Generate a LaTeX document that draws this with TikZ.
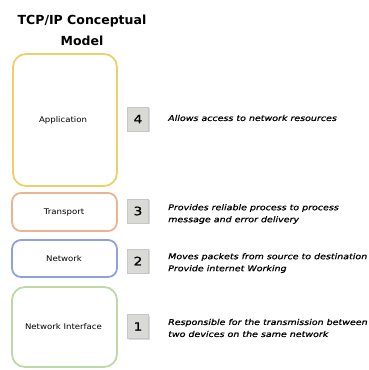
\documentclass[tikz,border=0pt]{standalone}
\usepackage{fontspec}
\setmainfont{DejaVu Sans}
\newfontfamily\descfont[FakeStretch=1.2, FakeBold=1]{DejaVu Sans}
\newfontfamily\labelfont[FakeStretch=1.1]{DejaVu Sans}
\usetikzlibrary{shadows}
\definecolor{appc}{HTML}{F0CF6A}
\definecolor{trc}{HTML}{E9B48F}
\definecolor{netc}{HTML}{8DA2DA}
\definecolor{nic}{HTML}{BCD9A6}
\definecolor{numfill}{HTML}{D9D9D6}
\tikzset{
  layer/.style={draw, line width=1.8pt, rounded corners=9pt, fill=white, inner sep=0pt},
  lbl/.style={inner sep=0pt, font=\labelfont\fontsize{7.8}{9}\selectfont},
  numbox/.style={draw=gray!45, fill=numfill, minimum width=21pt, minimum height=24pt,
    inner sep=0pt, font=\descfont\fontsize{11.5}{11.5}\selectfont,
    drop shadow={shadow xshift=1.2pt, shadow yshift=-1.2pt, opacity=0.3}},
  desc/.style={anchor=west, align=left, inner sep=0pt,
    font=\descfont\fontsize{7.9}{12}\selectfont\itshape},
  title/.style={align=center, font=\fontsize{12.5}{21}\selectfont\bfseries}
}
\begin{document}
\begin{tikzpicture}[x=1pt, y=-1pt]
\useasboundingbox (0,0) rectangle (369,370);
\node[title] (t) at (82,30) {TCP/IP Conceptual\\Model};
\draw[layer, draw=appc, rounded corners=13pt] (13,54) rectangle (117,186);
\node[lbl] (app) at (63,120) {Application};
\draw[layer, draw=trc] (12,193) rectangle (117,231);
\node[lbl] (tr) at (64,212) {Transport};
\draw[layer, draw=netc] (12,240) rectangle (117,277);
\node[lbl] (net) at (64,259) {Network};
\draw[layer, draw=nic, rounded corners=13pt] (12,287) rectangle (117,367);
\node[lbl] (ni) at (63.5,327) {Network Interface};
\node[numbox] (n4) at (138,119) {4};
\node[numbox] (n3) at (138,211) {3};
\node[numbox] (n2) at (138,261) {2};
\node[numbox] (n1) at (138,326.5) {1};
\node[desc] (d4) at (168,118) {Allows access to network resources};
\node[desc] (d3) at (168,214) {Provides reliable process to process\\message and error delivery};
\node[desc] (d2) at (168,263) {Moves packets from source to destination\\Provide internet Working};
\node[desc] (d1) at (168,328) {Responsible for the transmission between\\two devices on the same network};
\end{tikzpicture}
\end{document}
